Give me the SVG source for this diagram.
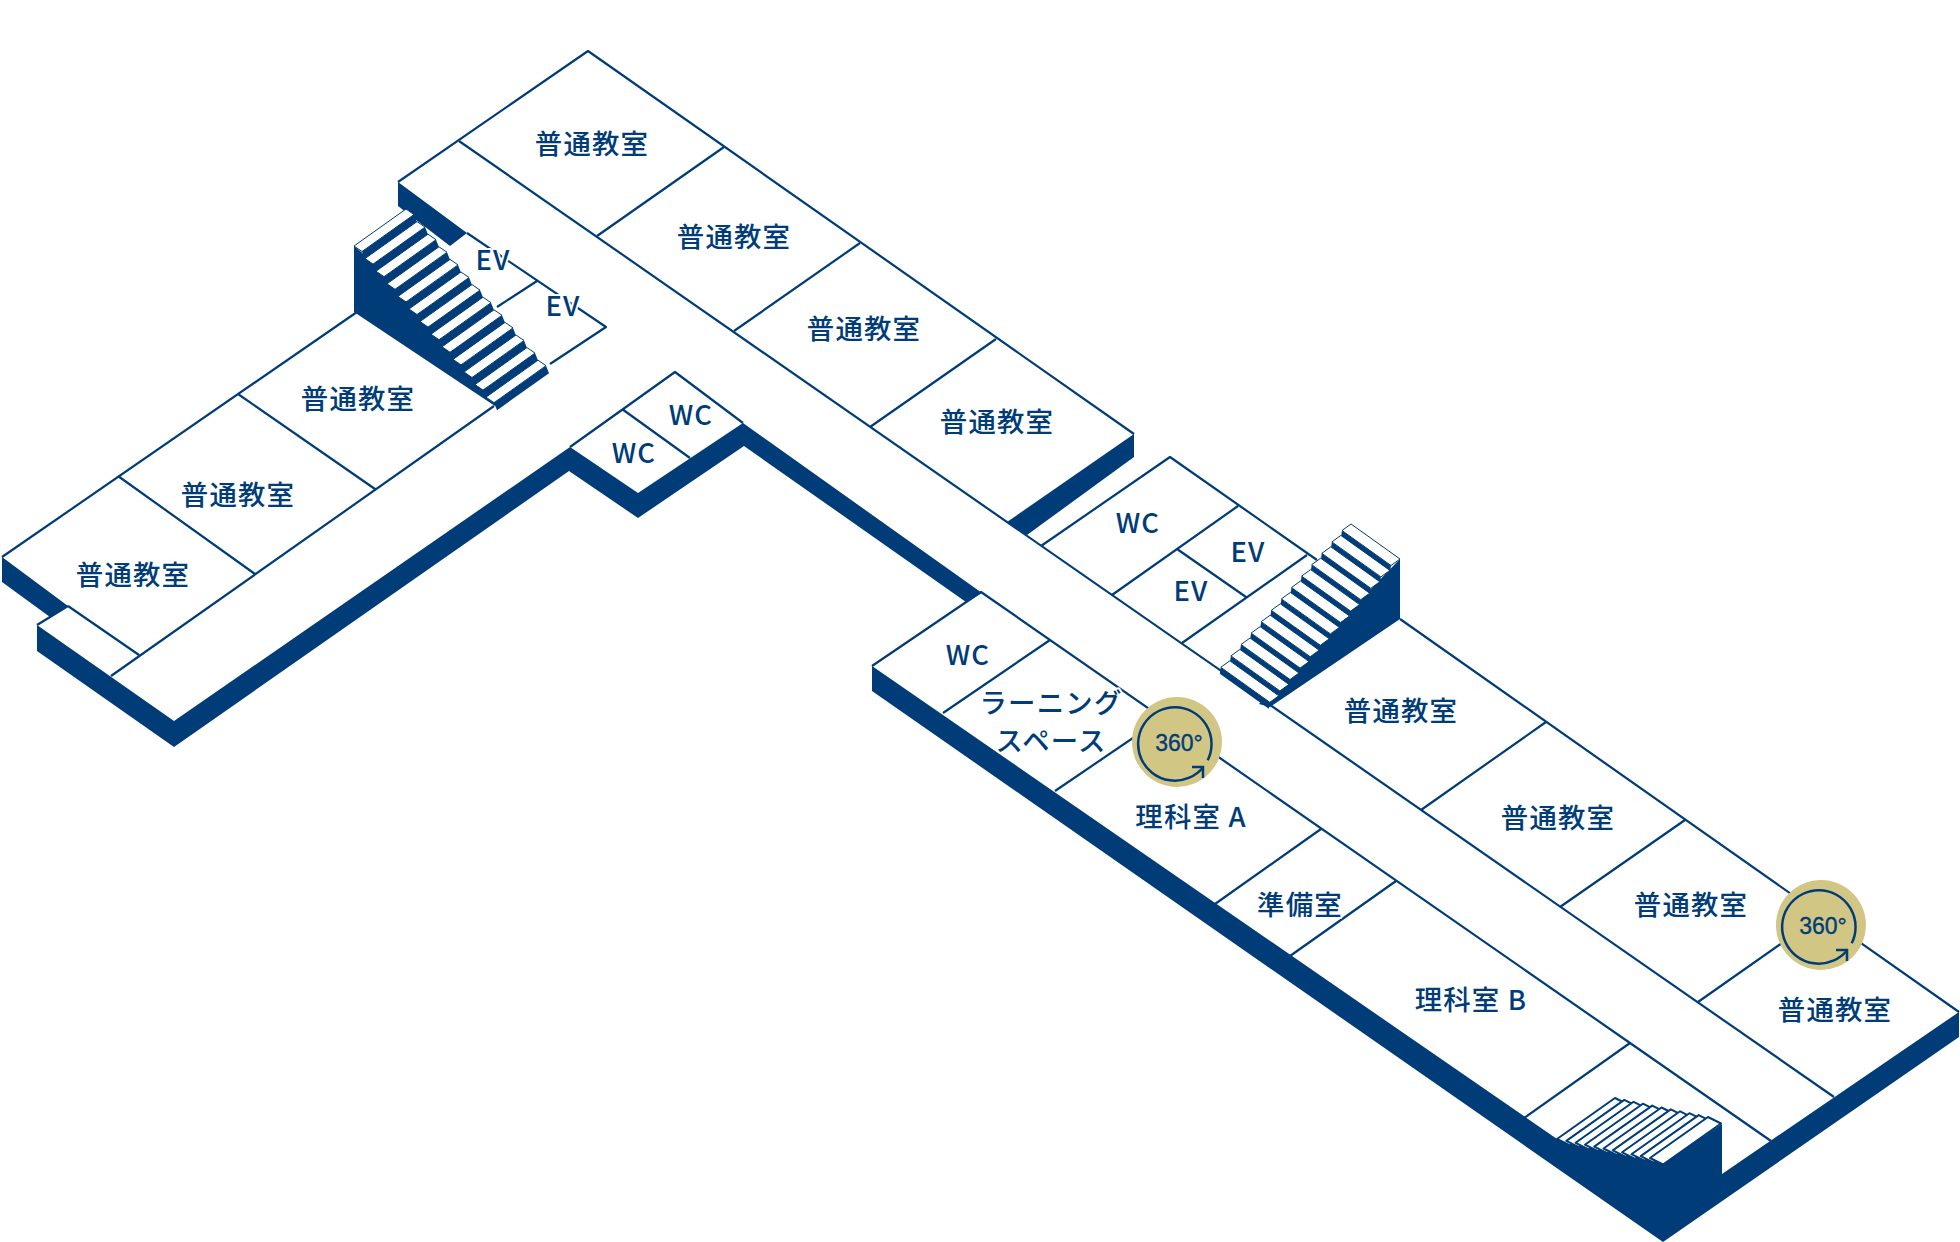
<svg xmlns="http://www.w3.org/2000/svg" width="1960" height="1242" viewBox="0 0 1960 1242">
<style>
.d{fill:#003c78;stroke:none}
.l{fill:none;stroke:#003c78;stroke-width:2.2;stroke-linejoin:round}
.t{fill:#fff;stroke:#003c78;stroke-width:1;stroke-linejoin:round}
.tb{fill:#fff;stroke:#003c78;stroke-width:2;stroke-linejoin:round}
text{font-family:"Noto Sans CJK JP","Noto Sans",sans-serif;font-size:27.4px;font-weight:500;fill:#003c78;text-anchor:middle;dominant-baseline:central;letter-spacing:1.2px;stroke:#fff;stroke-width:4px;paint-order:stroke;stroke-linejoin:round}
.n{fill:#d1c683}
.r{fill:none;stroke:#003c78;stroke-width:2.5}
text.p{font-family:"Liberation Sans",Arial,sans-serif;font-size:23px;letter-spacing:0;stroke:#003c78;stroke-width:.35px;paint-order:normal}
</style>
<defs>
<g id="sl"><path class="d" d="M8 5.500L60 -31.500L63 -24L11 13Z"/><path class="t" d="M0 0L52 -37L60 -31.500L8 5.500Z"/></g>
<g id="sr"><path class="d" d="M-9 6.500L40 41.500L39 48L-10 13Z"/><path class="t" d="M0 0L49 35L40 41.500L-9 6.500Z"/></g>
<g id="sb"><path class="tb" d="M0 0L58 -41L71 -34.500L13 6.500Z"/></g>
<g id="badge"><circle class="n" r="45"/><path class="r" d="M30.700 18.300A36.700 36.700 0 1 0 26 25.500"/><path class="r" d="M15 25H26V36"/><text class="p" x="2" y="0.500">360°</text></g>
</defs>
<g id="connectors">
<path class="d" d="M2 557L68 606L50 617L2 582Z"/>
<path class="d" d="M37 625L174 721L570 447L638 493L743 423L982 593L966 602L744 446L638 518L569 471L174 747L37 651Z"/>
<path class="d" d="M398 182L467 233L450 246L398 206Z"/>
<path class="d" d="M1134 434V457L1027 535L1007 522Z"/>
<path class="d" d="M872 666L1557 1139L1663 1163L1722 1124V1174L1959 1012V1037L1663 1242L872 691Z"/>
<path class="l" d="M398 182L588 51L1134 434"/>
<path class="l" d="M459 141L1834 1097"/>
<path class="l" d="M724 147L597 236M860 243L734 331M996 339L870 427"/>
<path class="l" d="M467 233L606 327L550 364M537 281L497 307"/>
<path class="l" d="M2 557L357 312M118 476L255 574M238 394L375 489M68 606L139 655M68 606L37 625M111 676L494 406"/>
<path class="l" d="M570 447L675 372L743 423M622 409L690 458"/>
<path class="l" d="M1041 546L1170 457L1317 560M1238 506L1112 595M1177 549L1246 597M1307 555L1182 643"/>
<path class="l" d="M1400 619L1959 1012M1546 722L1421 810M1685 820L1560 907M1822 915L1698 1002"/>
<path class="l" d="M872 666L981 592L1630 1043L1771 1141M1050 640L943 713M1180 706L1055 791M1321 829L1215 904M1396 881L1290 956M1630 1043L1524 1118"/>
</g>
<g id="stair-left">
<path class="d" d="M354 246V312L495 406L499 401L366 256Z"/>
<use href="#sl" x="354" y="246"/><use href="#sl" x="365" y="258.600"/><use href="#sl" x="376" y="271.200"/><use href="#sl" x="387" y="283.800"/><use href="#sl" x="398" y="296.400"/><use href="#sl" x="409" y="309"/><use href="#sl" x="420" y="321.600"/><use href="#sl" x="431" y="334.200"/><use href="#sl" x="442" y="346.800"/><use href="#sl" x="453" y="359.400"/><use href="#sl" x="464" y="372"/><use href="#sl" x="475" y="384.600"/><use href="#sl" x="486" y="397.200"/>
</g>
<g id="stair-right">
<path class="d" d="M1400 559V619L1270 707L1259 704Z"/>
<use href="#sr" x="1351" y="524"/><use href="#sr" x="1340.900" y="535.400"/><use href="#sr" x="1330.800" y="546.800"/><use href="#sr" x="1320.700" y="558.200"/><use href="#sr" x="1310.600" y="569.600"/><use href="#sr" x="1300.500" y="581"/><use href="#sr" x="1290.400" y="592.400"/><use href="#sr" x="1280.300" y="603.800"/><use href="#sr" x="1270.200" y="615.200"/><use href="#sr" x="1260.100" y="626.600"/><use href="#sr" x="1250" y="638"/><use href="#sr" x="1239.900" y="649.400"/><use href="#sr" x="1229.800" y="660.800"/>
</g>
<g id="stair-bottom">
<use href="#sb" x="1557" y="1139"/><use href="#sb" x="1566.300" y="1140.900"/><use href="#sb" x="1575.600" y="1142.800"/><use href="#sb" x="1584.900" y="1144.700"/><use href="#sb" x="1594.200" y="1146.600"/><use href="#sb" x="1603.500" y="1148.500"/><use href="#sb" x="1612.800" y="1150.400"/><use href="#sb" x="1622.100" y="1152.300"/><use href="#sb" x="1631.400" y="1154.200"/><use href="#sb" x="1640.700" y="1156.100"/><use href="#sb" x="1650" y="1158"/>
</g>
<g id="n1"><text x="592" y="142">普通教室</text></g>
<g id="n2"><text x="734" y="235">普通教室</text></g>
<g id="n3"><text x="864" y="327">普通教室</text></g>
<g id="n4"><text x="997" y="420">普通教室</text></g>
<g id="n5"><text x="358" y="397">普通教室</text></g>
<g id="n6"><text x="238" y="493">普通教室</text></g>
<g id="n7"><text x="133" y="573">普通教室</text></g>
<g id="n8"><text x="1401" y="709">普通教室</text></g>
<g id="n9"><text x="1558" y="816">普通教室</text></g>
<g id="n10"><text x="1691" y="903">普通教室</text></g>
<g id="n11"><text x="1835" y="1008">普通教室</text></g>
<g id="n12"><text x="493" y="258">EV</text></g>
<g id="n13"><text x="563" y="304">EV</text></g>
<g id="n14"><text x="691" y="413">WC</text></g>
<g id="n15"><text x="634" y="451">WC</text></g>
<g id="n16"><text x="1138" y="521">WC</text></g>
<g id="n17"><text x="1248" y="550">EV</text></g>
<g id="n18"><text x="1191" y="589">EV</text></g>
<g id="n19"><text x="968" y="653">WC</text></g>
<g id="n20"><text x="1051" y="701">ラーニング</text><text x="1051" y="739">スペース</text></g>
<g id="n21"><text x="1191" y="815">理科室 A</text></g>
<g id="n22"><text x="1300" y="903">準備室</text></g>
<g id="n23"><text x="1471" y="998">理科室 B</text></g>
<g id="b1" transform="translate(1177 742)"><use href="#badge"/></g>
<g id="b2" transform="translate(1821 925)"><use href="#badge"/></g>
</svg>
